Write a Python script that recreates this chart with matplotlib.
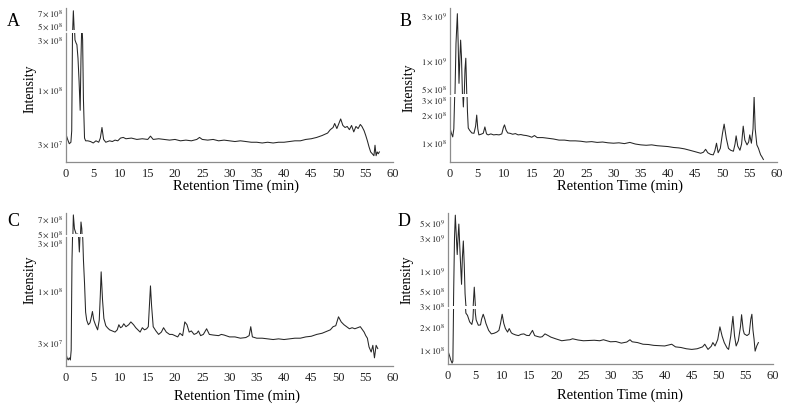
import matplotlib
matplotlib.use('Agg')
import matplotlib.pyplot as plt
from matplotlib.ticker import FixedLocator, FixedFormatter, NullLocator

plt.rcParams['font.family'] = ['Liberation Serif', 'DejaVu Serif']
plt.rcParams['mathtext.fontset'] = 'stix'

# ---------------- data ----------------
x_ticks = [0, 5, 10, 15, 20, 25, 30, 35, 40, 45, 50, 55, 60]
x_label = 'Retention Time (min)'
y_label = 'Intensity'

# Panel A (intensity in units of 1e7)
time_A = [0, 0.3, 0.6, 0.9, 1.05, 1.2, 1.35, 1.5, 1.65, 1.85, 2.0, 2.2, 2.4, 2.6, 2.75, 2.9,
          3.05, 3.2, 3.4, 3.6, 4.0, 4.5, 5.0, 5.5, 6.0, 6.3, 6.6, 6.9, 7.3, 8.0, 8.5, 9.0, 9.5,
          10.0, 10.5, 11, 12, 13, 14, 15, 15.5, 16, 17, 18, 19, 20, 21, 22, 23, 24, 24.5, 25,
          26, 27, 28, 29, 30, 31, 32, 33, 34, 35, 36, 37, 38, 39, 40, 41, 42, 43, 44, 45, 46,
          47, 47.5, 48, 48.5, 49, 49.3, 49.7, 50.0, 50.4, 50.8, 51.2, 51.6, 52.0, 52.4, 52.8,
          53.2, 53.6, 54.0, 54.3, 54.7, 55.0, 55.3, 55.6, 55.9, 56.2, 56.5, 56.7, 56.9, 57.1,
          57.3, 57.5]
int_A = [3.7, 3.3, 3.0, 3.1, 4.0, 40, 74, 45, 30, 28, 27, 20, 12, 6.3, 20, 44,
         30, 8, 3.4, 3.2, 3.2, 3.15, 3.05, 3.2, 3.1, 3.4, 4.3, 3.3, 3.1, 3.2, 3.15, 3.25, 3.2,
         3.4, 3.45, 3.35, 3.4, 3.3, 3.35, 3.3, 3.55, 3.3, 3.35, 3.3, 3.25, 3.3, 3.2, 3.25, 3.2, 3.3, 3.45, 3.3,
         3.25, 3.3, 3.2, 3.25, 3.2, 3.15, 3.2, 3.15, 3.1, 3.1, 3.05, 3.1, 3.05, 3.1, 3.1, 3.15, 3.2, 3.2, 3.3, 3.35, 3.45,
         3.6, 3.7, 3.8, 4.1, 4.3, 4.7, 4.2, 4.6, 5.2, 4.5, 4.3, 4.4, 4.1, 4.5, 3.9,
         4.4, 4.2, 4.6, 4.4, 4.0, 3.6, 3.2, 2.8, 2.5, 2.4, 2.3, 2.9, 2.3, 2.5,
         2.4, 2.5]

# Panel B
time_B = [0, 0.25, 0.5, 0.7, 0.9, 1.1, 1.35, 1.5, 1.65, 1.8, 1.95, 2.1, 2.3, 2.45, 2.6, 2.75, 2.9,
          3.05, 3.2, 3.35, 3.6, 4.0, 4.4, 4.7, 4.9, 5.1, 5.3, 5.7, 6.1, 6.4, 6.7, 7.0, 7.5, 8.0,
          8.5, 9.0, 9.5, 9.8, 10.0, 10.3, 10.6, 11, 11.5, 12, 12.5, 13, 13.5, 14, 14.5, 15, 15.5,
          16, 17, 18, 19, 20, 21, 22, 23, 24, 25, 26, 27, 28, 29, 30, 31, 32, 33, 34, 35, 36, 37,
          38, 39, 40, 41, 42, 43, 44, 45, 46, 46.5, 46.9, 47.3, 47.8, 48.3, 48.6, 48.9, 49.2,
          49.6, 50.0, 50.3, 50.7, 51.1, 51.5, 52.0, 52.3, 52.5, 52.8, 53.2, 53.5, 53.8, 54.1,
          54.5, 54.8, 55.0, 55.3, 55.6, 55.8, 56.0, 56.3, 56.6, 56.8, 57.0, 57.2, 57.5]
int_B = [14.3, 12.5, 11.4, 14, 40, 150, 310, 150, 57, 100, 163, 110, 40, 24.5, 40, 80, 105,
         50, 22, 14.3, 13.5, 12.6, 12.5, 15, 19.9, 14, 12, 12.2, 12.5, 14.7, 12.3, 12.0, 12.3, 12.0,
         12.1, 12.0, 12.3, 14.5, 15.5, 13.5, 12.6, 12.5, 12.2, 12.4, 12.0, 12.1, 11.9, 11.8, 11.6, 11.3, 11.8,
         11.2, 11.2, 11.0, 10.8, 10.5, 10.5, 10.3, 10.3, 10.2, 10.0, 10.1, 9.9, 10.0, 9.8, 9.7, 9.8, 9.6, 9.9, 9.5, 9.3, 9.2, 9.3,
         9.1, 9.0, 8.9, 8.7, 8.6, 8.4, 8.1, 7.8, 7.5, 7.7, 8.3, 7.6, 7.3, 7.2, 8.0, 9.7, 7.6,
         8.5, 12.5, 15.8, 11.0, 8.5, 8.1, 7.9, 9.5, 11.7, 9.0, 8.1, 9.5, 15.0, 10.5,
         9.3, 10.0, 12.0, 9.7, 14, 32, 14, 9.3, 8.5, 7.8, 7.2, 6.9, 6.4]

# Panel C
time_C = [0, 0.2, 0.4, 0.6, 0.8, 0.95, 1.1, 1.35, 1.55, 1.8, 2.0, 2.15, 2.3, 2.45, 2.6, 2.75, 2.9,
          3.1, 3.2, 3.4, 3.6, 3.8, 4.1, 4.4, 4.6, 4.85, 5.1, 5.4, 5.8, 6.1, 6.3, 6.45, 6.7, 6.95,
          7.3, 7.6, 8.0, 8.5, 9.0, 9.4, 9.7, 10.0, 10.3, 10.6, 11.0, 11.5, 11.9, 12.4, 12.8, 13.2,
          13.6, 14.0, 14.4, 14.8, 15.1, 15.3, 15.5, 15.7, 16.0, 16.5, 17.0, 17.5, 17.9, 18.4, 19.0,
          19.5, 20.0, 20.5, 20.9, 21.4, 21.8, 22.2, 22.6, 23.0, 23.5, 24.0, 24.3, 24.7, 25.2, 25.8,
          26.3, 27.0, 28.0, 28.5, 29.0, 30.0, 31.0, 32.0, 33.0, 33.6, 33.9, 34.2, 35.0, 36.0, 37.0,
          38.0, 39.0, 40.0, 41.0, 42.0, 43.0, 44.0, 45.0, 46.0, 47.0, 48.0, 48.5, 49.0, 49.5, 50.0,
          50.5, 51.0, 51.5, 52.0, 52.5, 53.0, 53.5, 54.0, 54.4, 54.7, 55.0, 55.3, 55.6, 56.0, 56.3,
          56.6, 56.9, 57.2]
int_C = [2.3, 2.1, 2.0, 2.1, 2.0, 2.5, 20, 75, 55, 50, 47, 49, 35, 24, 40, 64, 55,
         30, 20, 11.7, 6, 5, 4.5, 4.7, 5.2, 6.1, 5.0, 4.5, 4.0, 5.0, 9, 15.2, 8, 5.2,
         4.4, 4.2, 4.0, 3.9, 3.8, 4.0, 4.5, 4.2, 4.3, 4.6, 4.3, 4.5, 4.8, 4.5, 4.2, 4.0,
         3.8, 4.2, 4.0, 4.1, 4.3, 7, 11, 7, 4.3, 3.9, 3.6, 3.8, 4.2, 3.8, 3.6,
         3.6, 3.5, 3.4, 3.7, 3.5, 4.8, 4.5, 3.8, 3.9, 3.6, 3.7, 3.9, 3.5, 3.6, 4.1,
         3.6, 3.55, 3.5, 3.6, 3.55, 3.4, 3.4, 3.3, 3.35, 3.5, 4.3, 3.4, 3.3, 3.3, 3.25,
         3.2, 3.25, 3.2, 3.25, 3.3, 3.3, 3.4, 3.45, 3.6, 3.7, 3.9, 4.0, 4.3, 4.4, 5.4,
         4.8, 4.5, 4.3, 4.1, 4.2, 4.1, 4.2, 4.3, 4.0, 3.8, 3.5, 3.3, 2.7, 2.4, 2.8,
         2.1, 2.8, 2.6]

# Panel D
time_D = [0, 0.3, 0.5, 0.75, 0.9, 1.05, 1.2, 1.35, 1.55, 1.7, 1.85, 2.0, 2.2, 2.4, 2.5, 2.65, 2.83,
          3.0, 3.15, 3.3, 3.6, 4.0, 4.4, 4.6, 4.85, 5.05, 5.2, 5.6, 6.0, 6.2, 6.5, 6.8, 7.0, 7.5,
          8.0, 8.5, 9.0, 9.4, 9.7, 10.0, 10.3, 10.6, 11.0, 11.3, 11.7, 12.0, 12.5, 13.0, 13.5, 14.0,
          14.5, 15.0, 15.6, 16.0, 16.5, 17.0, 17.4, 17.9, 18.5, 19.0, 20.0, 21.0, 22.0, 22.5, 23.0,
          24.0, 25.0, 26.0, 27.0, 28.0, 28.7, 29.5, 30.0, 31.0, 32.0, 33.0, 33.6, 34.0, 35.0, 36.0,
          37.0, 38.0, 39.0, 40.0, 41.3, 42.0, 43.0, 44.0, 45.0, 46.0, 47.0, 47.4, 48.0, 48.6, 48.9,
          49.3, 49.8, 50.2, 50.6, 51.0, 51.5, 51.8, 52.2, 52.6, 52.9, 53.2, 53.6, 54.0, 54.2, 54.5,
          54.7, 55.2, 55.6, 55.9, 56.1, 56.3, 56.5, 56.7, 57.0, 57.3]
int_D = [9.5, 8.2, 7.3, 6.6, 7, 50, 300, 650, 300, 170, 300, 480, 200, 90, 62, 150, 270,
         120, 45, 30, 28, 23, 21.3, 25, 56, 30, 24.4, 20.8, 21, 25, 29, 25, 22, 17.8,
         16.0, 16.3, 16.9, 17.8, 22, 29, 22, 18.8, 16.9, 18.8, 16.5, 16.0, 15.5, 15.2, 15.8, 16.0,
         15.3, 15.2, 17.8, 15.2, 14.8, 14.5, 14.7, 16.0, 15.2, 14.5, 13.7, 13.0, 13.3, 13.4, 13.8,
         13.3, 13.0, 13.1, 13.2, 13.0, 13.4, 12.9, 12.6, 12.7, 12.1, 12.5, 13.4, 12.6, 12.3, 11.7,
         11.6, 11.3, 11.2, 11.1, 11.7, 10.8, 10.6, 10.2, 10.0, 10.2, 10.8, 11.7, 10.0, 11.0, 12.3,
         11.1, 13.5, 19.8, 15, 12.3, 10.5, 10.0, 15, 27.2, 15, 11.1, 13.0, 20, 28.6, 18,
         16.0, 15.2, 16.0, 25, 29, 18, 13.7, 9.5, 11.1, 12.3]

# y tick values and labels (upper / lower segment of each broken axis)
ticks_A_up, labels_A_up = [5e8, 7e8], [r'$5\times10^{8}$', r'$7\times10^{8}$']
ticks_A_lo, labels_A_lo = [3e7, 1e8, 3e8], [r'$3\times10^{7}$', r'$1\times10^{8}$', r'$3\times10^{8}$']
ticks_B_up, labels_B_up = [5e8, 1e9, 3e9], [r'$5\times10^{8}$', r'$1\times10^{9}$', r'$3\times10^{9}$']
ticks_B_lo, labels_B_lo = [1e8, 2e8, 3e8], [r'$1\times10^{8}$', r'$2\times10^{8}$', r'$3\times10^{8}$']
ticks_C_up, labels_C_up = [5e8, 7e8], [r'$5\times10^{8}$', r'$7\times10^{8}$']
ticks_C_lo, labels_C_lo = [3e7, 1e8, 3e8], [r'$3\times10^{7}$', r'$1\times10^{8}$', r'$3\times10^{8}$']
ticks_D_up, labels_D_up = [3e8, 5e8, 1e9, 3e9, 5e9], [r'$3\times10^{8}$', r'$5\times10^{8}$',
                                                     r'$1\times10^{9}$', r'$3\times10^{9}$', r'$5\times10^{9}$']
ticks_D_lo, labels_D_lo = [1e8, 2e8], [r'$1\times10^{8}$', r'$2\times10^{8}$']

# ---------------- layout ----------------
W, H = 789, 409
fig = plt.figure(figsize=(W / 100, H / 100), dpi=100)


def rect(l, r, t, b):
    return [l / W, 1 - b / H, (r - l) / W, (b - t) / H]


LINE = '#262626'
SPINE = '#8c8c8c'

panels = [
    dict(letter='A', t=time_A, v=int_A, l=66, r=393, up=(8, 30), lo=(33, 162),
         ylim_up=(4.5e8, 7.95e8), ylim_lo=(2.0e7, 3.5e8),
         tu=ticks_A_up, lu=labels_A_up, tl=ticks_A_lo, ll=labels_A_lo,
         letter_xy=(13, 21), ylab_xy=(30, 89), xlab_xy=(236, 186)),
    dict(letter='B', t=time_B, v=int_B, l=450, r=777, up=(8, 94), lo=(97, 162),
         ylim_up=(4.4e8, 3.56e9), ylim_lo=(6.0e7, 3.16e8),
         tu=ticks_B_up, lu=labels_B_up, tl=ticks_B_lo, ll=labels_B_lo,
         letter_xy=(406, 21), ylab_xy=(409, 88), xlab_xy=(620, 186)),
    dict(letter='C', t=time_C, v=int_C, l=66, r=393, up=(213, 234), lo=(237, 366),
         ylim_up=(4.89e8, 7.83e8), ylim_lo=(1.74e7, 3.39e8),
         tu=ticks_C_up, lu=labels_C_up, tl=ticks_C_lo, ll=labels_C_lo,
         letter_xy=(13, 221), ylab_xy=(30, 280), xlab_xy=(237, 396)),
    dict(letter='D', t=time_D, v=int_D, l=448, r=773, up=(213, 306), lo=(309, 364),
         ylim_up=(2.95e8, 7.0e9), ylim_lo=(6.43e7, 3.4e8),
         tu=ticks_D_up, lu=labels_D_up, tl=ticks_D_lo, ll=labels_D_lo,
         letter_xy=(404, 221), ylab_xy=(407, 280), xlab_xy=(620, 395)),
]


def style(ax, ticks, labels, ylim, bottom):
    ax.set_yscale('log')
    ax.set_xlim(0, 60)
    ax.set_ylim(*ylim)
    ax.yaxis.set_major_locator(FixedLocator(ticks))
    ax.yaxis.set_major_formatter(FixedFormatter(labels))
    ax.yaxis.set_minor_locator(NullLocator())
    ax.tick_params(axis='y', length=0, pad=2, labelsize=6.3, colors='#222222')
    for s in ('top', 'right'):
        ax.spines[s].set_visible(False)
    ax.spines['left'].set_color(SPINE)
    ax.spines['left'].set_linewidth(0.9)
    if bottom:
        ax.spines['bottom'].set_color(SPINE)
        ax.spines['bottom'].set_linewidth(0.9)
        ax.xaxis.set_major_locator(FixedLocator(x_ticks))
        ax.set_xticklabels([str(x) for x in x_ticks])
        ax.tick_params(axis='x', length=0, pad=4, labelsize=9, colors='#222222')
    else:
        ax.spines['bottom'].set_visible(False)
        ax.set_xticks([])
    ax.patch.set_alpha(0)


for p in panels:
    vals = [x * 1e7 for x in p['v']]
    ax_up = fig.add_axes(rect(p['l'], p['r'], *p['up']))
    ax_lo = fig.add_axes(rect(p['l'], p['r'], *p['lo']))
    for ax in (ax_up, ax_lo):
        ax.plot(p['t'], vals, color=LINE, lw=0.75)
    style(ax_up, p['tu'], p['lu'], p['ylim_up'], False)
    style(ax_lo, p['tl'], p['ll'], p['ylim_lo'], True)
    fig.text(p['letter_xy'][0] / W, 1 - p['letter_xy'][1] / H, p['letter'],
             fontsize=13, ha='center', va='center')
    fig.text(p['ylab_xy'][0] / W, 1 - p['ylab_xy'][1] / H, y_label,
             fontsize=10, rotation=90, ha='center', va='center')
    fig.text(p['xlab_xy'][0] / W, 1 - p['xlab_xy'][1] / H, x_label,
             fontsize=10.5, ha='center', va='center')

fig.savefig('out.png', dpi=100)
